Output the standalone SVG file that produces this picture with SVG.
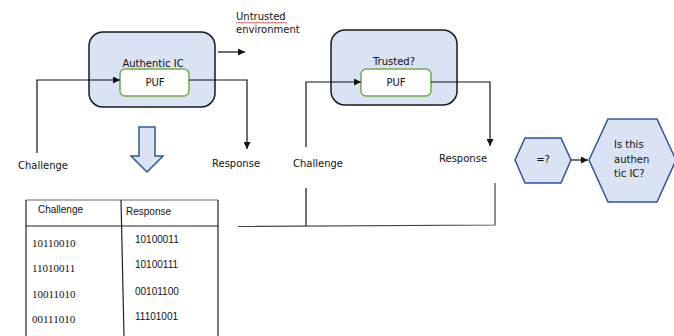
<svg xmlns="http://www.w3.org/2000/svg" width="674" height="336" viewBox="0 0 674 336">
  <style>
    .lbl { font-family: "DejaVu Sans", Verdana, sans-serif; font-size: 10px; fill: #111; }
    .tbl { font-family: "Liberation Sans", Arial, sans-serif; font-size: 10px; fill: #111; }
    .bits { font-family: "Liberation Serif", "Times New Roman", serif; font-size: 11px; fill: #111; }
    .chip { fill: #dae3f3; stroke: #1a1a1a; stroke-width: 1.5; }
    .puf { fill: #ffffff; stroke: #70ad47; stroke-width: 1.5; }
    .hex { fill: #dae3f3; stroke: #2f5597; stroke-width: 1.5; }
    .wire { fill: none; stroke: #111; stroke-width: 1.2; }
    .rule { fill: none; stroke: #222; stroke-width: 1.2; }
  </style>
  <defs>
    <marker id="head" viewBox="0 0 10 10" refX="10" refY="5" markerWidth="7" markerHeight="7" markerUnits="userSpaceOnUse" orient="auto">
      <path d="M0,0 L10,5 L0,10 z" fill="#111"/>
    </marker>
  </defs>

  <rect width="674" height="336" fill="#ffffff"/>

  <!-- device under enrollment -->
  <g id="authentic-ic">
    <rect class="chip" x="89" y="32" width="126" height="75" rx="14"/>
    <text class="lbl" x="153" y="67" text-anchor="middle">Authentic IC</text>
  </g>
  <g id="puf-1">
    <rect class="puf" x="120" y="69" width="69" height="27" rx="5"/>
    <text class="lbl" x="155" y="86" text-anchor="middle">PUF</text>
  </g>

  <!-- device under test -->
  <g id="trusted-ic">
    <rect class="chip" x="331" y="30" width="126" height="75" rx="14"/>
    <text class="lbl" x="394" y="65" text-anchor="middle">Trusted?</text>
  </g>
  <g id="puf-2">
    <rect class="puf" x="361" y="69" width="70" height="27" rx="5"/>
    <text class="lbl" x="396" y="86" text-anchor="middle">PUF</text>
  </g>

  <!-- comparison -->
  <g id="compare">
    <polygon class="hex" points="515,160 525,138 561,138 571,160 561,183 525,183"/>
    <text class="lbl" x="543" y="163" text-anchor="middle">=?</text>
  </g>
  <g id="verdict">
    <polygon class="hex" points="589,160 608,119 657,119 676,160 657,202 608,202"/>
    <text class="lbl" x="614" y="148">Is this</text>
    <text class="lbl" x="614" y="163">authen</text>
    <text class="lbl" x="614" y="177">tic IC?</text>
  </g>

  <!-- enrollment arrow -->
  <g id="enroll-arrow">
    <polygon class="hex" points="139,127 155,127 155,156 163,156 147,172 131,156 139,156"/>
  </g>

  <!-- free labels -->
  <g id="labels">
    <text class="lbl" x="236" y="20">Untrusted</text>
    <path d="M236,22 l1.5,1.2 l1.5,-1.2 l1.5,1.2 l1.5,-1.2 l1.5,1.2 l1.5,-1.2 l1.5,1.2 l1.5,-1.2 l1.5,1.2 l1.5,-1.2 l1.5,1.2 l1.5,-1.2 l1.5,1.2 l1.5,-1.2 l1.5,1.2 l1.5,-1.2 l1.5,1.2 l1.5,-1.2 l1.5,1.2 l1.5,-1.2 l1.5,1.2 l1.5,-1.2 l1.5,1.2 l1.5,-1.2 l1.5,1.2 l1.5,-1.2 l1.5,1.2 l1.5,-1.2 l1.5,1.2 l1.5,-1.2 l1.5,1.2 l1.5,-1.2 l1.5,1.2 l1.5,-1.2" fill="none" stroke="#e03030" stroke-width="0.8"/>
    <text class="lbl" x="236" y="33">environment</text>
    <text class="lbl" x="18" y="169">Challenge</text>
    <text class="lbl" x="212" y="167">Response</text>
    <text class="lbl" x="293" y="167">Challenge</text>
    <text class="lbl" x="439" y="162">Response</text>
  </g>

  <!-- challenge/response database -->
  <g id="crp-table">
    <path d="M26,200 H218" fill="none" stroke="#666" stroke-width="1.2"/>
    <path class="rule" d="M26,200 V336 M218,200 V336 M26,226 H218 M121,200 L124,336"/>
    <text class="tbl" x="38" y="213">Challenge</text>
    <text class="tbl" x="126" y="215">Response</text>
    <text class="bits" x="32" y="247">10110010</text>
    <text class="bits" x="32" y="272">11010011</text>
    <text class="bits" x="32" y="298">10011010</text>
    <text class="bits" x="32" y="323">00111010</text>
    <text class="tbl" x="135" y="243">10100011</text>
    <text class="tbl" x="135" y="268">10100111</text>
    <text class="tbl" x="135" y="295">00101100</text>
    <text class="tbl" x="135" y="320">11101001</text>
  </g>

  <!-- connectors -->
  <g id="connectors">
    <path class="wire" d="M37,153 V80 H120" marker-end="url(#head)"/>
    <path class="wire" d="M189,80 H247 V149" marker-end="url(#head)"/>
    <path class="wire" d="M218,52 H245" marker-end="url(#head)"/>
    <path class="wire" d="M306,147 V82 H361" marker-end="url(#head)"/>
    <path class="wire" d="M431,82 H490 V146" marker-end="url(#head)"/>
    <path d="M571,160 H588" fill="none" stroke="#444" stroke-width="1.5" marker-end="url(#head)"/>
    <path d="M238,226.5 L495,225 V183" fill="none" stroke="#444" stroke-width="1.2"/>
    <path class="wire" d="M306,188 V226"/>
  </g>
</svg>
